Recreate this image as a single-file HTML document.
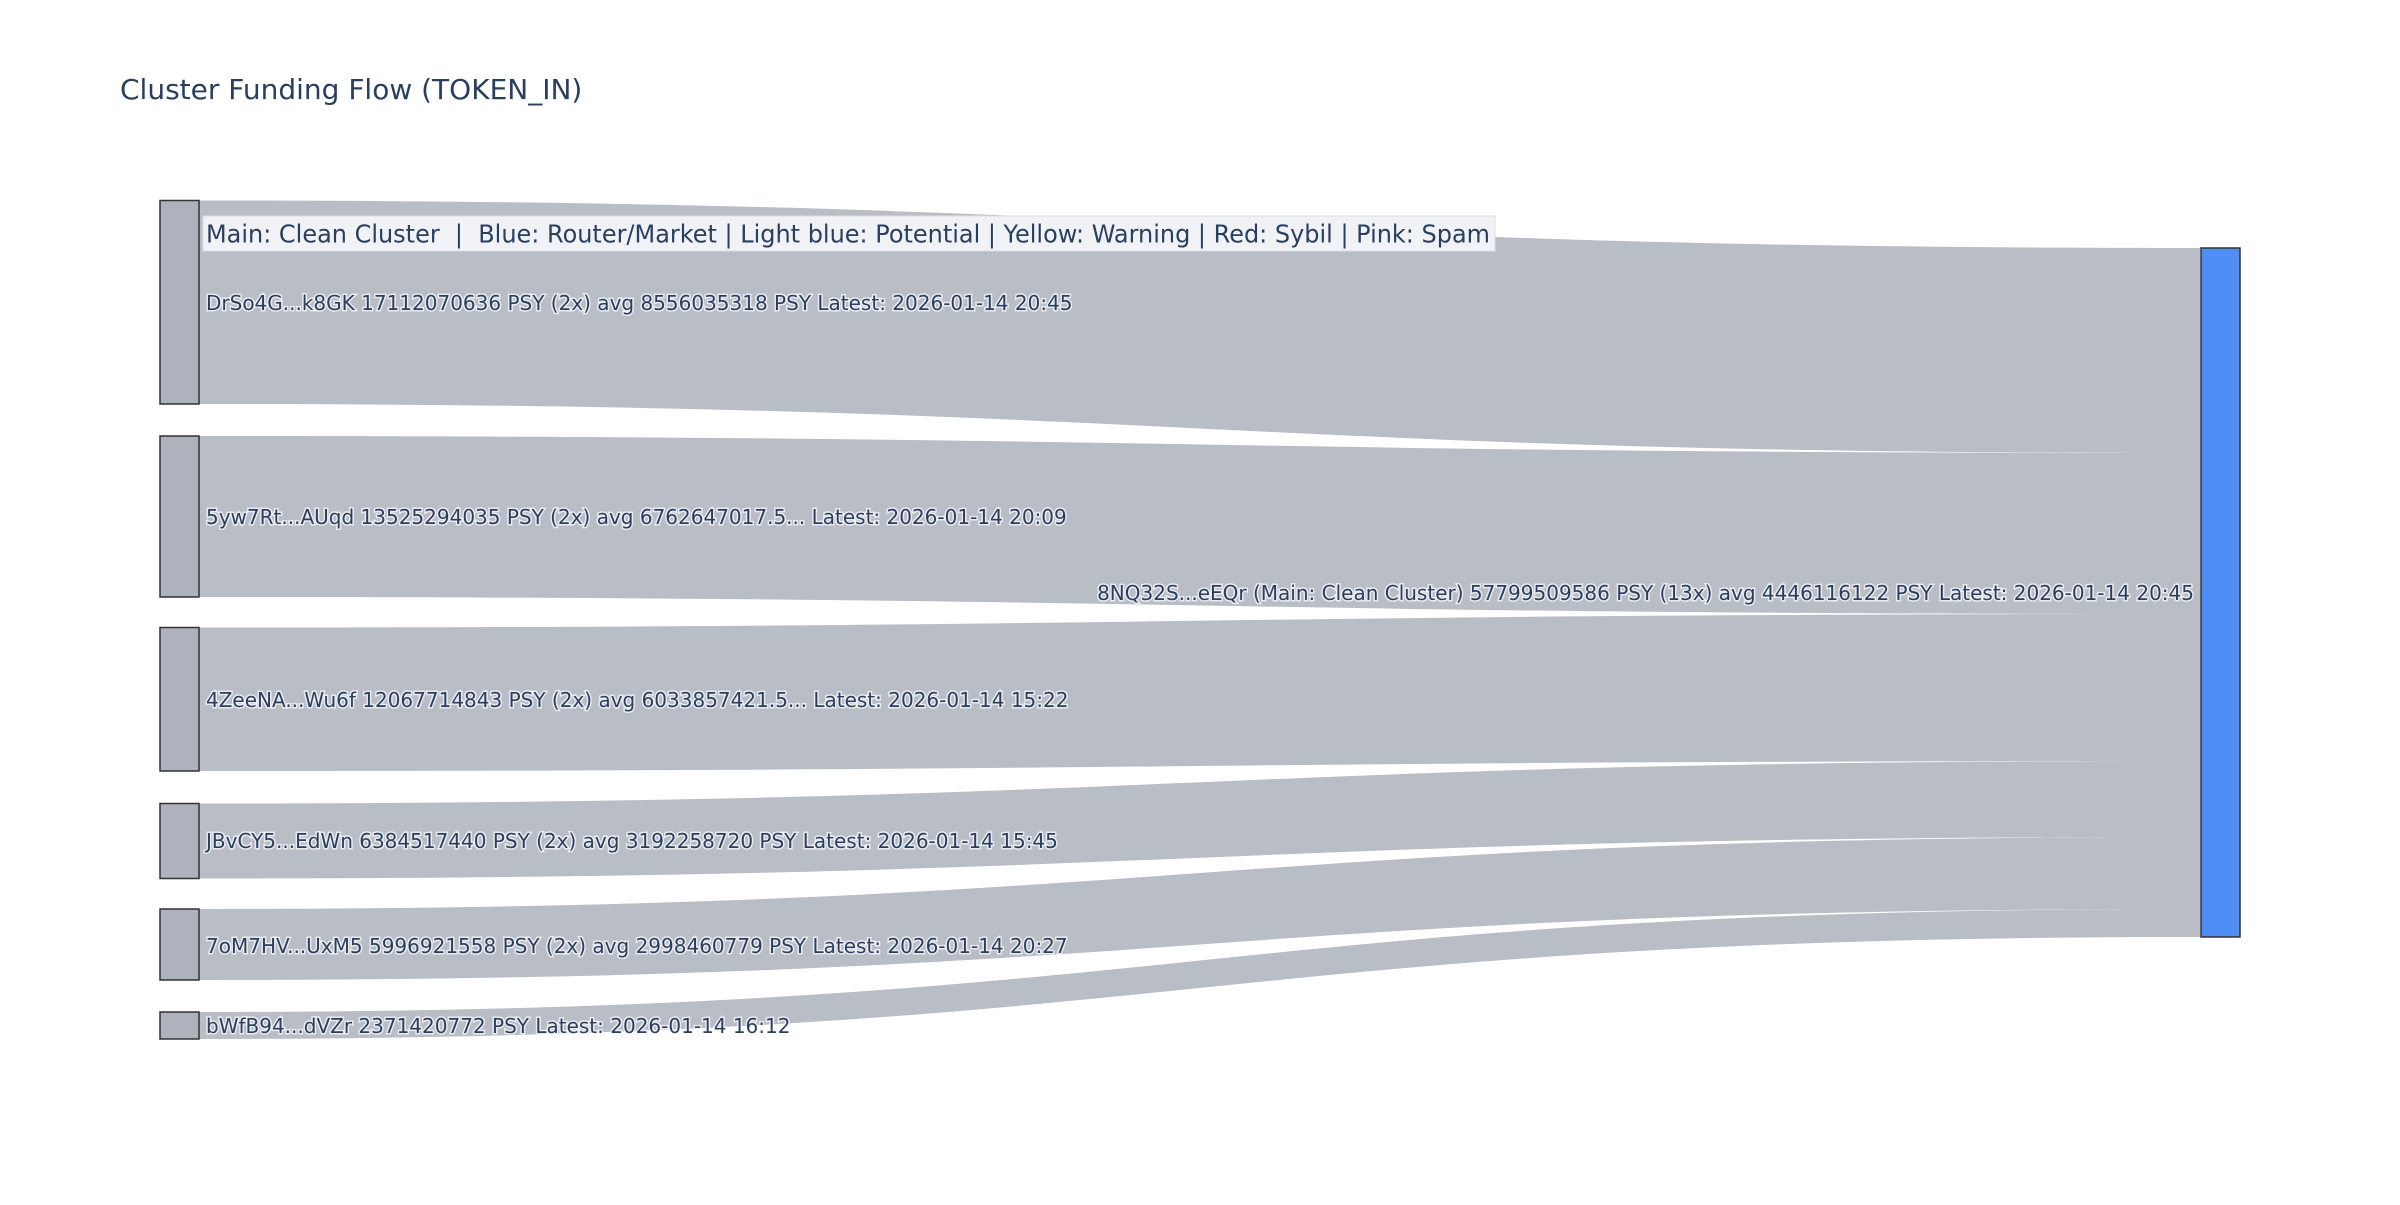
<!DOCTYPE html>
<html><head><meta charset="utf-8"><style>
body{margin:0;background:#fff}
svg text{font-family:"DejaVu Sans","Liberation Sans",sans-serif;fill:#2a3f5f}
.l{font-size:20px;paint-order:stroke;stroke:#fff;stroke-width:3px;stroke-opacity:.7;dominant-baseline:central}
</style></head><body>
<svg width="2400" height="1200" xmlns="http://www.w3.org/2000/svg">
<rect width="2400" height="1200" fill="#fff"/>
<text x="120" y="99" style="font-size:28px">Cluster Funding Flow (TOKEN_IN)</text>
<g fill="#b9bdc6">
<path d="M199,200.5 C1200,200.5 1200,248 2200,248 L2200,453 C1200,453 1200,404 199,404 Z"/>
<path d="M199,436 C1200,436 1200,453 2200,453 L2200,614 C1200,614 1200,597 199,597 Z"/>
<path d="M199,627.5 C1200,627.5 1200,614 2200,614 L2200,761 C1200,761 1200,771 199,771 Z"/>
<path d="M199,803.5 C1200,803.5 1200,761 2200,761 L2200,837 C1200,837 1200,878.5 199,878.5 Z"/>
<path d="M199,909 C1200,909 1200,837 2200,837 L2200,909 C1200,909 1200,980 199,980 Z"/>
<path d="M199,1012 C1200,1012 1200,909 2200,909 L2200,937 C1200,937 1200,1039 199,1039 Z"/>
</g>
<g fill="#adb2bc" stroke="#333" stroke-width="1.5">
<rect x="160" y="200.5" width="39" height="203.5"/>
<rect x="160" y="436" width="39" height="161"/>
<rect x="160" y="627.5" width="39" height="143.5"/>
<rect x="160" y="803.5" width="39" height="75"/>
<rect x="160" y="909" width="39" height="71"/>
<rect x="160" y="1012" width="39" height="27"/>
</g>
<rect x="2201" y="248" width="39" height="689" fill="#4f8ef5" stroke="#333" stroke-width="1.5"/>
<rect x="203" y="216" width="1292" height="35" fill="#f0f2f5" stroke="#ddd"/>
<text x="206" y="234" textLength="1284" lengthAdjust="spacingAndGlyphs" style="font-size:25px;dominant-baseline:central">Main: Clean Cluster &#160;| &#160;Blue: Router/Market | Light blue: Potential | Yellow: Warning | Red: Sybil | Pink: Spam</text>
<text class="l" x="206" y="303">DrSo4G...k8GK 17112070636 PSY (2x) avg 8556035318 PSY Latest: 2026-01-14 20:45</text>
<text class="l" x="206" y="517">5yw7Rt...AUqd 13525294035 PSY (2x) avg 6762647017.5... Latest: 2026-01-14 20:09</text>
<text class="l" x="206" y="700">4ZeeNA...Wu6f 12067714843 PSY (2x) avg 6033857421.5... Latest: 2026-01-14 15:22</text>
<text class="l" x="206" y="841">JBvCY5...EdWn 6384517440 PSY (2x) avg 3192258720 PSY Latest: 2026-01-14 15:45</text>
<text class="l" x="206" y="946">7oM7HV...UxM5 5996921558 PSY (2x) avg 2998460779 PSY Latest: 2026-01-14 20:27</text>
<text class="l" x="206" y="1026">bWfB94...dVZr 2371420772 PSY Latest: 2026-01-14 16:12</text>
<text class="l" x="2194" y="593" text-anchor="end">8NQ32S...eEQr (Main: Clean Cluster) 57799509586 PSY (13x) avg 4446116122 PSY Latest: 2026-01-14 20:45</text>
</svg>
</body></html>
